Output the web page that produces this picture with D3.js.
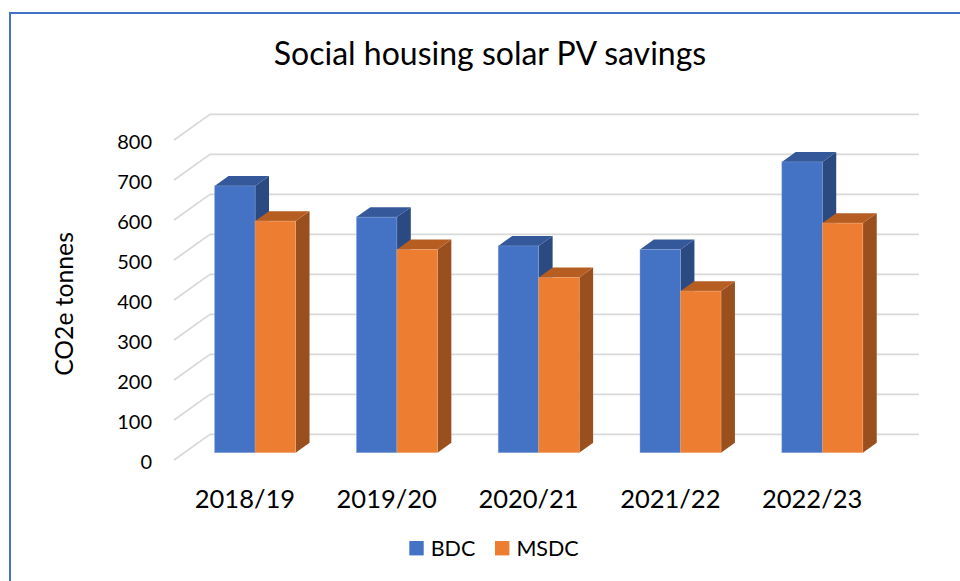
<!DOCTYPE html>
<html>
<head>
<meta charset="utf-8">
<script src="https://cdn.jsdelivr.net/npm/d3@7"></script>
<style>
  html, body { margin: 0; padding: 0; background: #fff; }
  svg { display: block; font-family: Lato, "Liberation Sans", Arial, sans-serif; }
</style>
</head>
<body>
<svg id="chart" width="960" height="581"></svg>
<script>
const title = "Social housing solar PV savings";
const yTitle = "CO2e tonnes";
const categories = ["2018/19", "2019/20", "2020/21", "2021/22", "2022/23"];
const seriesNames = ["BDC", "MSDC"];
const bdcValues = [667, 589, 517, 508, 727];
const msdcValues = [579, 508, 438, 404, 574];
const yTicks = [0, 100, 200, 300, 400, 500, 600, 700, 800];

const colors = {
  BDC:  { front: "#4472C4", top: "#34589A", side: "#2B4A82", edge: "#8FAADC" },
  MSDC: { front: "#ED7D31", top: "#B65E22", side: "#9A4F1E", edge: "#F4B183" }
};
const seriesValues = { BDC: bdcValues, MSDC: msdcValues };
const FONT = "Lato, 'Liberation Sans', Arial, sans-serif";

const svg = d3.select("#chart");

// 3D oblique projection parameters
const DX = 36, DY = 25.7;       // offset from back wall (z=0) to front (z=1)
const zFront = 0.716, zBack = 0.33;
const backLeft = 210, backRight = 919;

const y = d3.scaleLinear().domain([0, 800]).range([434.3, 114.3]);
const yFront = d3.scaleLinear().domain([0, 800]).range([434.3 + DY, 114.3 + DY]);
const x = d3.scaleBand().domain(categories).range([backLeft, backRight]);
const xFront = d3.scaleBand().domain(categories).range([backLeft - DX, backRight - DX]);
const xs = d3.scaleBand().domain(seriesNames).range([0, x.bandwidth()]).paddingInner(0).paddingOuter(0.75);

const proj = (px, v, z) => [px - DX * z, y(v) + DY * z];

// border
svg.append("rect").attr("x", 10).attr("y", 13).attr("width", 1000).attr("height", 600)
  .attr("fill", "none").attr("stroke", "#4472C4").attr("stroke-width", 2);

// title
svg.append("text").attr("x", 490).attr("y", 65).attr("text-anchor", "middle")
  .attr("font-size", 32).attr("fill", "#000").text(title);

// gridlines (back wall + left side wall diagonals)
const grid = svg.append("g");
yTicks.forEach(t => {
  const f = proj(backLeft, t, 1), b = proj(backLeft, t, 0);
  grid.append("polyline")
    .attr("points", [f, b, [backRight, y(t)]].map(p => p.join(",")).join(" "))
    .attr("fill", "none").attr("stroke", "#D9D9D9").attr("stroke-width", 1.8);
});

// y axis labels
const yAxis = svg.append("g").attr("transform", `translate(${backLeft - DX},0)`)
  .call(d3.axisLeft(yFront).tickValues(yTicks).tickSize(0).tickPadding(22));
yAxis.select(".domain").remove();
yAxis.selectAll("text").attr("font-size", 20).attr("fill", "#000")
  .attr("font-family", FONT).attr("dy", "0.4em");

// y title
svg.append("text").attr("transform", "translate(73,304) rotate(-90)")
  .attr("text-anchor", "middle").attr("font-size", 24.7).attr("fill", "#000").text(yTitle);

// bars
const bars = svg.append("g");
categories.forEach((c, i) => {
  seriesNames.forEach(s => {
    const v = seriesValues[s][i];
    const col = colors[s];
    const x0 = x(c) + xs(s), x1 = x0 + xs.bandwidth();
    const P = (px, val, z) => proj(px, val, z).join(",");
    // side face (right)
    bars.append("polygon")
      .attr("points", [P(x1, 0, zFront), P(x1, 0, zBack), P(x1, v, zBack), P(x1, v, zFront)].join(" "))
      .attr("fill", col.side);
    // top face
    bars.append("polygon")
      .attr("points", [P(x0, v, zFront), P(x0, v, zBack), P(x1, v, zBack), P(x1, v, zFront)].join(" "))
      .attr("fill", col.top);
    // front face
    const fl = proj(x0, v, zFront), fr = proj(x1, 0, zFront);
    bars.append("rect")
      .attr("x", fl[0]).attr("y", fl[1])
      .attr("width", fr[0] - fl[0]).attr("height", fr[1] - fl[1])
      .attr("fill", col.front).attr("stroke", col.edge).attr("stroke-width", 0.6).attr("stroke-opacity", 0.7);
  });
});

// category axis
const xAxis = svg.append("g").attr("transform", "translate(0,508)")
  .call(d3.axisBottom(xFront).tickSize(0));
xAxis.select(".domain").remove();
xAxis.selectAll("text").attr("y", 0).attr("dy", 0).attr("font-size", 25.5).attr("fill", "#000")
  .attr("font-family", FONT);

// legend
const legendPos = { BDC: 409.3, MSDC: 495 };
const legend = svg.append("g");
seriesNames.forEach(s => {
  legend.append("rect").attr("x", legendPos[s]).attr("y", 541).attr("width", 14.4).attr("height", 14.4)
    .attr("fill", colors[s].front);
  legend.append("text").attr("x", legendPos[s] + 21.4).attr("y", 556)
    .attr("font-size", 21.5).attr("fill", "#000").text(s);
});
</script>
</body>
</html>
